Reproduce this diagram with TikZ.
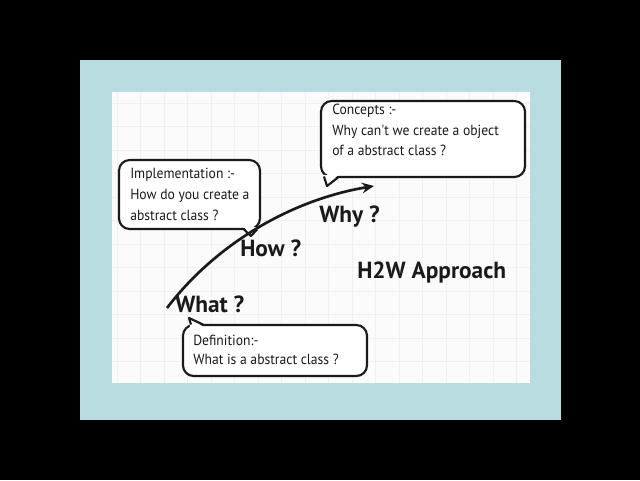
\documentclass[tikz,border=0pt]{standalone}
\usepackage{fontspec}
\setmainfont{PT Sans}
\newfontfamily\smallfont[FakeStretch=0.93]{PT Sans}
\definecolor{panel}{HTML}{B9DCE0}
\definecolor{paper}{HTML}{FBFBFB}
\definecolor{gridc}{HTML}{F0F0F0}
\definecolor{ink}{HTML}{1A1A1A}
\tikzset{
  bubble/.style={draw=ink, line width=1.6pt, fill=white, rounded corners=8pt},
  tailline/.style={draw=ink, line width=1.6pt, line join=round},
  small/.style={font=\smallfont\fontsize{11}{13}\selectfont, text=ink, anchor=base west, inner sep=0pt},
  big/.style={font=\fontsize{17.5}{20}\selectfont\bfseries, text=ink, anchor=base west, inner sep=0pt},
  arrowc/.style={draw=ink, line width=2pt, -{Stealth[length=9pt,width=8pt]}}
}
\usetikzlibrary{arrows.meta}
\begin{document}
\begin{tikzpicture}[x=0.75pt,y=-0.75pt]
\useasboundingbox (0,0) rectangle (640,480);
\fill[black] (0,0) rectangle (640,480);
\fill[panel] (80,60) rectangle (561,420);
\fill[paper] (112,92) rectangle (530,383);
\foreach \x in {117,140.5,...,530} \draw[gridc, line width=0.6pt] (\x,92) -- (\x,383);
\foreach \y in {103,126.5,...,383} \draw[gridc, line width=0.6pt] (112,\y) -- (530,\y);

% Concepts bubble
\draw[bubble] (321,101) rectangle (525,177);
\fill[white] (323.5,175) -- (338,175) -- (327,186) -- cycle;
\draw[tailline] (324,176.5) -- (327,186) -- (338,177.5);
\node[small] (c1) at (332,114) {Concepts :-};
\node[small] (c2) at (332,135) {Why can't we create a object};
\node[small] (c3) at (332,155) {of a abstract class ?};

% Implementation bubble
\draw[bubble] (119,160) rectangle (260,229);
\fill[white] (244,227) -- (257,227) -- (251,236) -- cycle;
\draw[tailline] (244,229.5) -- (251,236) -- (257,229.5);
\node[small] (i1) at (130,178) {Implementation :-};
\node[small] (i2) at (130,199) {How do you create a};
\node[small] (i3) at (130,220) {abstract class ?};

% Definition bubble
\draw[bubble] (183,325) rectangle (367,376);
\fill[white] (190,327) -- (204,327) -- (189,318) -- cycle;
\draw[tailline] (191,324.5) -- (189,318) -- (203,324.5);
\node[small] (d1) at (193,345) {Definition:-};
\node[small] (d2) at (193,364) {What is a abstract class ?};

% labels
\node[big] (what) at (175,312) {What ?};
\node[big] (how) at (240,256) {How ?};
\node[big] (why) at (319,222) {Why ?};
\node[big] (h2w) at (357,278) {H2W Approach};

% arrow
\coordinate (s) at (167,308);
\coordinate (e) at (374,186);
\draw[arrowc] (s) .. controls (215,245) and (290,200) .. (e);
\end{tikzpicture}
\end{document}
